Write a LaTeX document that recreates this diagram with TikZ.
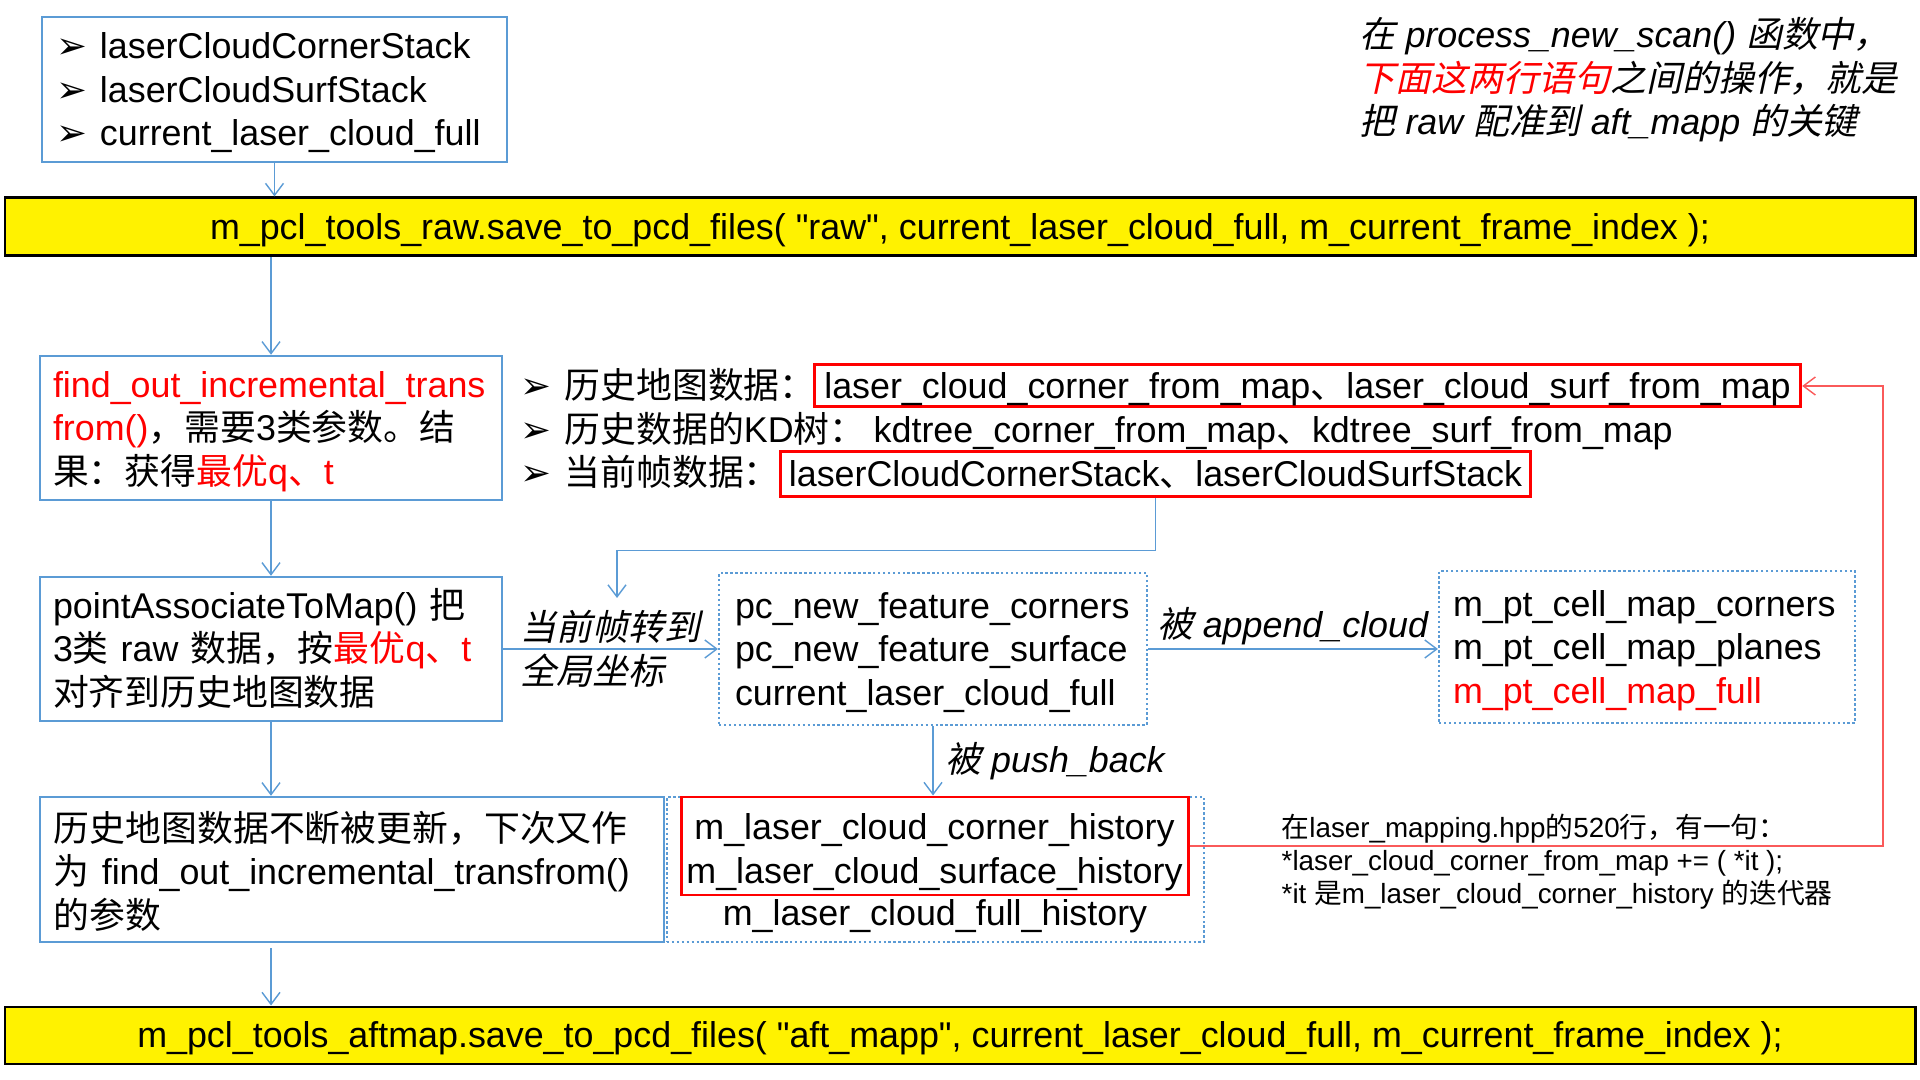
\documentclass[tikz,border=0pt]{standalone}
\usepackage{fontspec}
\setmainfont{Liberation Sans}
\newfontfamily\zhfont{Noto Sans CJK SC}
\newfontfamily\zhslfont{Noto Sans CJK SC}[FakeSlant=0.22]
\newfontfamily\symfont{DejaVu Sans}
\font\plainarial="Liberation Sans" at 10.2pt
\newcommand{\zh}[1]{{\zhfont #1}}
\newcommand{\zhsl}[1]{{\zhslfont\upshape #1}}
\newcommand{\dq}{{\plainarial"}}
\newcommand{\bul}{\makebox[0.44cm][l]{\symfont\fontsize{10.5pt}{10.5pt}\selectfont ➢}}
\usetikzlibrary{arrows.meta}
\definecolor{boxblue}{RGB}{91,155,213}
\definecolor{linkred}{RGB}{250,90,90}

\begin{document}
\begin{tikzpicture}[
    font=\fontsize{10.2pt}{12.4pt}\selectfont,
    bluebox/.style={draw=boxblue, line width=0.7pt, align=left, inner xsep=0.14cm, inner ysep=0pt, minimum height=1.44cm, text height=0.95em, text depth=27pt},
    redbox/.style={draw=red, line width=0.85pt, inner xsep=0.1cm, inner ysep=0pt},
    dotbox/.style={draw=boxblue, line width=0.6pt, dash pattern=on 0.7pt off 0.7pt},
    yellowbar/.style={fill=yellow, draw=black, line width=0.85pt, minimum width=19.1cm, minimum height=0.58cm, inner sep=0pt, text height=0.9em, text depth=0.21em},
    row/.style={inner sep=0pt, anchor=west, text height=0.9em, text depth=0.21em},
    flow/.style={draw=boxblue, line width=0.4pt, -{Straight Barb[length=1.2mm, width=1.8mm]}},
    redflow/.style={draw=linkred, line width=0.4pt, -{Straight Barb[length=1.2mm, width=1.8mm]}}]
    \useasboundingbox (0,0) rectangle (19.2,10.8);

    % Input stacks
    \node[bluebox, text width=4.37cm, minimum height=1.45cm] (stack) at (2.745, 9.905)
        {\bul laserCloudCornerStack\\\bul laserCloudSurfStack\\\bul current\_laser\_cloud\_full};

    % Note on process_new_scan
    \node[anchor=west, align=left, inner sep=0pt, font=\fontsize{10.2pt}{12.4pt}\selectfont\itshape] (scannote) at (13.59, 10.0)
        {\zhsl{在} process\_new\_scan() \zhsl{函数中，}\\\textcolor{red}{\zhsl{下面这两行语句}}\zhsl{之间的操作，就是}\\\zhsl{把} raw \zhsl{配准到} aft\_mapp \zhsl{的关键}};

    % Save raw
    \node[yellowbar] (rawsave) at (9.6, 8.53)
        {m\_pcl\_tools\_raw.save\_to\_pcd\_files( \dq raw\dq, current\_laser\_cloud\_full, m\_current\_frame\_index );};

    % find_out_incremental_transfrom
    \node[bluebox, text width=4.36cm, inner xsep=0.13cm] (findout) at (2.71, 6.52)
        {\textcolor{red}{find\_out\_incremental\_trans}\\\textcolor{red}{from()}\zh{，需要}3\zh{类参数。结}\\\zh{果：获得}\textcolor{red}{\zh{最优}q\zh{、}t}};

    % Its three inputs
    \node[row] (maplbl) at (5.2, 6.94) {\bul\zh{历史地图数据：}};
    \node[redbox, text height=0.9em, text depth=0.21em, minimum height=0.42cm] (rb1) at (13.075, 6.94)
        {laser\_cloud\_corner\_from\_map\zh{、}laser\_cloud\_surf\_from\_map};
    \node[row] (kdlbl) at (5.2, 6.50) {\bul\zh{历史数据的}KD\zh{树：}};
    \node[row] (kdtxt) at (8.73, 6.50) {kdtree\_corner\_from\_map\zh{、}kdtree\_surf\_from\_map};
    \node[row] (curlbl) at (5.2, 6.07) {\bul\zh{当前帧数据：}};
    \node[redbox, text height=0.9em, text depth=0.21em, minimum height=0.45cm, inner xsep=0.085cm] (rb2) at (11.555, 6.055)
        {laserCloudCornerStack\zh{、}laserCloudSurfStack};

    % pointAssociateToMap
    \node[bluebox, text width=4.36cm, inner xsep=0.13cm] (pa) at (2.71, 4.31)
        {pointAssociateToMap() \zh{把}\\3\zh{类} raw \zh{数据，按}\textcolor{red}{\zh{最优}q\zh{、}t}\\\zh{对齐到历史地图数据}};

    % New features and cell map
    \node[dotbox, text width=3.96cm, align=left, inner xsep=0.16cm, minimum height=1.44cm, text height=0.95em, text depth=27pt] (pcnew) at (9.33, 4.31)
        {pc\_new\_feature\_corners\\pc\_new\_feature\_surface\\current\_laser\_cloud\_full};
    \node[dotbox, text width=3.88cm, align=left, inner xsep=0.14cm, minimum height=1.46cm, text height=0.95em, text depth=27pt] (mpt) at (16.47, 4.33)
        {m\_pt\_cell\_map\_corners\\m\_pt\_cell\_map\_planes\\\textcolor{red}{m\_pt\_cell\_map\_full}};

    % Map updated
    \node[bluebox, text width=5.96cm, minimum height=1.45cm, text height=1.1em] (upd) at (3.52, 2.105)
        {\zh{历史地图数据不断被更新，下次又作}\\\zh{为} find\_out\_incremental\_transfrom()\\\zh{的参数}};

    % History
    \node[dotbox, minimum width=5.37cm, minimum height=1.45cm] (hist) at (9.355, 2.105) {};
    \node[redbox, text width=5.07cm, minimum height=0.98cm, align=center, inner xsep=0pt, text height=1.1em, text depth=14.6pt] (histcs) at (9.345, 2.34)
        {m\_laser\_cloud\_corner\_history\\m\_laser\_cloud\_surface\_history};
    \node[inner sep=0pt] (histfull) at (9.35, 1.64) {m\_laser\_cloud\_full\_history};

    \node[anchor=west, align=left, inner sep=0pt, font=\fontsize{7.9pt}{9.4pt}\selectfont] (hppnote) at (12.81, 2.18)
        {\zh{在}laser\_mapping.hpp\zh{的}520\zh{行，有一句：}\\{}*laser\_cloud\_corner\_from\_map += ( *it );\\{}*it \zh{是}m\_laser\_cloud\_corner\_history \zh{的迭代器}};

    % Save aft_mapp
    \node[yellowbar, minimum height=0.57cm] (aftsave) at (9.6, 0.445)
        {m\_pcl\_tools\_aftmap.save\_to\_pcd\_files( \dq aft\_mapp\dq, current\_laser\_cloud\_full, m\_current\_frame\_index );};

    % Connectors
    \coordinate (cur2pc) at (6.17, 4.82);
    \coordinate (rbend) at (18.83, 6.94);
    \draw[flow] (stack.south) -- (stack.south |- rawsave.north);
    \draw[flow] (findout.north |- rawsave.south) -- (findout.north);
    \draw[flow] (findout.south) -- (pa.north);
    \draw[flow] (rb2.south) -- ++(0,-0.52) -| (cur2pc);
    \draw[flow] (pa.east) -- (pcnew.west)
        node[midway, align=left, inner sep=0pt] (tolbl) {\zhsl{当前帧转到}\\\zhsl{全局坐标}};
    \draw[flow] (pcnew.east) -- (pcnew.east -| mpt.west)
        node[midway, above, inner sep=1pt] (applbl) {\zhsl{被} \textit{append\_cloud}};
    \draw[flow] (pcnew.south) -- (pcnew.south |- histcs.north)
        node[midway, right] (pushlbl) {\zhsl{被} \textit{push\_back}};
    \draw[flow] (pa.south) -- (pa.south |- upd.north);
    \draw[flow] ([yshift=-0.05cm]pa.south |- upd.south) -- (pa.south |- aftsave.north);
    \draw[redflow] (histcs.east) -| (rbend) -- (rb1.east);
\end{tikzpicture}
\end{document}
